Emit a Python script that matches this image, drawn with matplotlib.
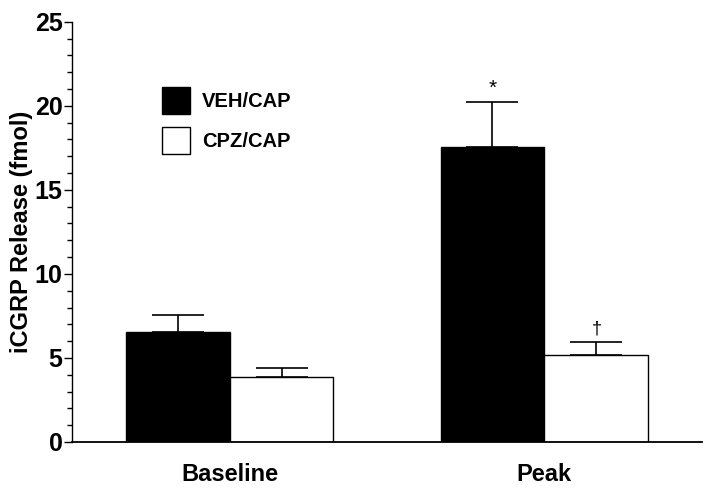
import matplotlib
matplotlib.use('Agg')
import matplotlib.pyplot as plt
from matplotlib.ticker import MultipleLocator

plt.rcParams['font.family'] = ['Liberation Sans', 'DejaVu Sans']

groups = ['Baseline', 'Peak']
series = ['VEH/CAP', 'CPZ/CAP']
veh_mean = [6.55, 17.55]
veh_err = [1.0, 2.65]
cpz_mean = [3.85, 5.2]
cpz_err = [0.55, 0.75]
marks = ['*', '\u2020']   # peak VEH vs baseline, CPZ vs VEH

fig = plt.figure(figsize=(7.14, 4.96), dpi=100)
ax = fig.add_axes([0.101, 0.109, 0.882, 0.847])

x = range(len(groups))
w = 0.33
xv = [i - w / 2 for i in x]
xc = [i + w / 2 for i in x]

err_kw = dict(lw=1.2, capthick=1.2, capsize=19, ecolor='black')
ax.bar(xv, veh_mean, w, color='black', edgecolor='black', lw=1,
       yerr=[[0, 0], veh_err], error_kw=err_kw, label=series[0])
ax.bar(xc, cpz_mean, w, color='white', edgecolor='black', lw=1,
       yerr=[[0, 0], cpz_err], error_kw=err_kw, label=series[1])

# significance marks
ax.text(xv[1], veh_mean[1] + veh_err[1] + 0.25, marks[0], ha='center',
        va='bottom', fontsize=15)
ax.text(xc[1], cpz_mean[1] + cpz_err[1] + 0.25, marks[1], ha='center',
        va='bottom', fontsize=13)

ax.set_xlim(-0.5, 1.5)
ax.set_ylim(0, 25)
ax.yaxis.set_major_locator(MultipleLocator(5))
ax.yaxis.set_minor_locator(MultipleLocator(1))
ax.tick_params(axis='y', which='major', direction='out', length=6, width=1,
               labelsize=18, pad=1)
ax.tick_params(axis='y', which='minor', direction='out', length=3.5, width=1)
ax.tick_params(axis='x', length=0, labelsize=17, pad=15)
for lab in ax.get_yticklabels() + ax.get_xticklabels():
    lab.set_fontweight('bold')
ax.set_xticks(list(x))
ax.set_xticklabels(groups, fontweight='bold')

ax.spines['top'].set_visible(False)
ax.spines['right'].set_visible(False)
ax.spines['left'].set_linewidth(1)
ax.spines['bottom'].set_linewidth(1.3)

ax.set_ylabel('iCGRP Release (fmol)', fontsize=17, fontweight='bold')
ax.yaxis.set_label_coords(-0.062, 0.5)

ax.legend(loc='upper left', bbox_to_anchor=(0.13, 0.865), frameon=False,
          prop={'size': 14.5, 'weight': 'bold'}, handlelength=1.4,
          handleheight=1.75, handletextpad=0.6, labelspacing=0.6,
          borderaxespad=0)

fig.savefig('out.png', dpi=100)
